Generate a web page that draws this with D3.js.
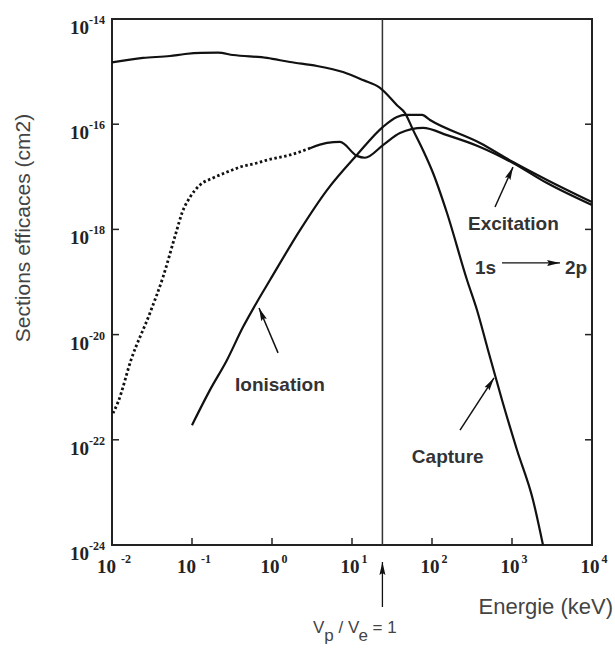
<!DOCTYPE html>
<html><head><meta charset="utf-8">
<script src="https://cdn.jsdelivr.net/npm/d3@7"></script>
<style>body{margin:0;background:#fff}</style>
</head><body>
<svg id="chart" width="615" height="652"></svg>
<script>
// ---- data (energy in keV, cross section in cm2) ----
const captureE = [0.01,0.0244,0.0531,0.0818,0.13,0.211,0.326,0.866,1.68,3.65,7.72,13.7,22.4,36.5,46.0,57.9,77.2,103,154,274,365,501,750,1155,1830,2440];
const captureS = [1.5e-15,1.82e-15,1.98e-15,2.16e-15,2.27e-15,2.29e-15,2.07e-15,1.82e-15,1.52e-15,1.28e-15,9.8e-16,6.9e-16,4.9e-16,2.3e-16,1.63e-16,7.8e-17,3.2e-17,1.18e-17,2.05e-18,1.09e-19,2.94e-20,5.1e-21,5.7e-22,6.4e-23,7.2e-24,1e-24];

const ionisationE = [0.1,0.168,0.274,0.434,0.668,0.944,2.24,4.87,11.5,24.4,36.5,46.0,75,94.4,398,1029,2740,10000];
const ionisationS = [1.9e-22,8.9e-22,3.3e-21,1.39e-20,4.5e-20,1.09e-19,9.7e-19,5.6e-18,2.6e-17,8.9e-17,1.37e-16,1.5e-16,1.5e-16,1.2e-16,4.4e-17,1.91e-17,8.7e-18,3.3e-18];

const excitationE = [0.0103,0.0119,0.0173,0.0299,0.0434,0.0631,0.075,0.0944,0.126,0.183,0.274,0.398,0.649,0.866,1.68,2.99,4.87,7.08,11.5,14.5,24.4,39.8,77.2,154,398,1029,2740,10000];
const excitationS = [3.2e-22,5.2e-22,3.3e-21,2.6e-20,1.24e-19,8.6e-19,2.05e-18,4.1e-18,7.0e-18,9.5e-18,1.23e-17,1.53e-17,1.83e-17,2.08e-17,2.6e-17,3.5e-17,4.4e-17,4.6e-17,2.5e-17,2.3e-17,4.0e-17,6.8e-17,8.5e-17,6.2e-17,3.7e-17,1.83e-17,7.6e-18,2.9e-18];
const excitationDottedMaxE = 2.99;

const xTickExps = [-2,-1,0,1,2,3,4];
const yTickExps = [-14,-16,-18,-20,-22,-24];
const xLabel = "Energie (keV)";
const yLabel = "Sections efficaces (cm2)";
const vpVeEnergy = 24;

// annotations in data coordinates
const labelNames = ["Ionisation","Capture","Excitation"];
const labelE = [0.345, 56, 282];
const labelS = [8.5e-22, 3.6e-23, 9.7e-19];
const arrowTailE = [1.19, 224, 613];
const arrowTailS = [4.5e-21, 1.53e-22, 2.67e-18];
const arrowTipE = [0.688, 596, 1029];
const arrowTipS = [3.2e-20, 1.5e-21, 1.53e-17];
const transitionE = [345, 750, 3980, 4600];   // "1s" start, arrow start, arrow end, "2p" start
const transitionS = 2.3e-19;

// ---- chart ----
const svg = d3.select("#chart");
const x = d3.scaleLog().domain([1e-2, 1e4]).range([112, 592]);
const y = d3.scaleLog().domain([1e-24, 1e-14]).range([545, 19]);
const ink = "#111";

const defs = svg.append("defs");
defs.append("marker").attr("id","ah").attr("viewBox","0 0 13 7").attr("refX",13).attr("refY",3.5)
  .attr("markerWidth",13).attr("markerHeight",7).attr("markerUnits","userSpaceOnUse").attr("orient","auto")
  .append("path").attr("d","M0,0.5 L13,3.5 L0,6.5 L2,3.5 Z").attr("fill",ink);

// frame
svg.append("rect").attr("x", x.range()[0]).attr("y", y.range()[1])
  .attr("width", x.range()[1]-x.range()[0]).attr("height", y.range()[0]-y.range()[1])
  .attr("fill","none").attr("stroke","#222").attr("stroke-width",2);

// x ticks (inward)
const xt = svg.append("g");
xTickExps.forEach(e => {
  const px = x(Math.pow(10,e));
  if (e > -2 && e < 4) xt.append("line").attr("x1",px).attr("x2",px).attr("y1",545).attr("y2",538)
    .attr("stroke","#222").attr("stroke-width",1.5);
  const t = xt.append("text").attr("x",px+2).attr("y",573).attr("text-anchor","middle")
    .attr("font-family","Liberation Serif").attr("font-weight","bold").attr("font-size",19).attr("fill","#222");
  t.append("tspan").text("10");
  t.append("tspan").attr("dx", e < 0 ? 5 : 2).attr("dy",-10).attr("font-size",12).text(e < 0 ? "-" + Math.abs(e) : String(e));
});

// y ticks
const yt = svg.append("g");
yTickExps.forEach(e => {
  const py = y(Math.pow(10,e));
  if (e > -24 && e < -14) {
    yt.append("line").attr("x1",112).attr("x2",119).attr("y1",py).attr("y2",py).attr("stroke","#222").attr("stroke-width",1.5);
    yt.append("line").attr("x1",592).attr("x2",585).attr("y1",py).attr("y2",py).attr("stroke","#222").attr("stroke-width",1.5);
  }
  const t = yt.append("text").attr("x",70).attr("y",py+15)
    .attr("font-family","Liberation Serif").attr("font-weight","bold").attr("font-size",19).attr("fill","#222");
  t.append("tspan").text("10");
  t.append("tspan").attr("dx",0).attr("dy",-10).attr("font-size",12).text("-" + Math.abs(e));
});

// axis titles
svg.append("text").attr("transform","translate(30,228) rotate(-90)").attr("text-anchor","middle")
  .attr("font-family","Liberation Sans").attr("font-size",21).attr("fill","#444").text(yLabel);
svg.append("text").attr("x",613).attr("y",614).attr("text-anchor","end")
  .attr("font-family","Liberation Sans").attr("font-size",22).attr("fill","#444").text(xLabel);

// Vp/Ve line
const vx = x(vpVeEnergy);
svg.append("line").attr("x1",vx).attr("x2",vx).attr("y1",19).attr("y2",545).attr("stroke","#333").attr("stroke-width",1.5);
svg.append("line").attr("x1",vx).attr("x2",vx).attr("y1",607).attr("y2",562).attr("stroke",ink).attr("stroke-width",1.3)
  .attr("marker-end","url(#ah)");
const vt = svg.append("text").attr("x",313).attr("y",633).attr("font-family","Liberation Sans").attr("font-size",17).attr("fill","#444");
vt.append("tspan").text("V");
vt.append("tspan").attr("dy",8).text("p");
vt.append("tspan").attr("dy",-8).text(" / V");
vt.append("tspan").attr("dy",8).text("e");
vt.append("tspan").attr("dy",-8).text(" = 1");

// curves
const line = d3.line().x(d => x(d[0])).y(d => y(d[1])).curve(d3.curveMonotoneX);
const cap = captureE.map((e,i) => [e, captureS[i]]);
const ion = ionisationE.map((e,i) => [e, ionisationS[i]]);
const exc = excitationE.map((e,i) => [e, excitationS[i]]);
const g = svg.append("g").attr("fill","none").attr("stroke",ink).attr("stroke-linejoin","round");
g.append("path").attr("d", line(cap)).attr("stroke-width",2.2);
g.append("path").attr("d", line(ion)).attr("stroke-width",2.2);
g.append("path").attr("d", line(exc.filter(d => d[0] <= excitationDottedMaxE))).attr("stroke-width",2.8).attr("stroke-dasharray","2.5,2.5");
g.append("path").attr("d", line(exc.filter(d => d[0] >= excitationDottedMaxE))).attr("stroke-width",2.2);

// annotations
labelNames.forEach((n,i) => {
  svg.append("text").attr("x", x(labelE[i])).attr("y", y(labelS[i]))
    .attr("font-family","Liberation Sans").attr("font-weight","bold").attr("font-size",19).attr("fill","#333").text(n);
  svg.append("line").attr("x1", x(arrowTailE[i])).attr("y1", y(arrowTailS[i]))
    .attr("x2", x(arrowTipE[i])).attr("y2", y(arrowTipS[i])).attr("stroke",ink).attr("stroke-width",1.5)
    .attr("marker-end","url(#ah)");
});
svg.append("text").attr("x", x(transitionE[0])).attr("y", y(transitionS)+11)
  .attr("font-family","Liberation Sans").attr("font-weight","bold").attr("font-size",19).attr("fill","#333").text("1s");
svg.append("line").attr("x1", x(transitionE[1])).attr("x2", x(transitionE[2])).attr("y1", y(transitionS)).attr("y2", y(transitionS))
  .attr("stroke",ink).attr("stroke-width",1.3).attr("marker-end","url(#ah)");
svg.append("text").attr("x", x(transitionE[3])).attr("y", y(transitionS)+11)
  .attr("font-family","Liberation Sans").attr("font-weight","bold").attr("font-size",19).attr("fill","#333").text("2p");
</script>
</body></html>
